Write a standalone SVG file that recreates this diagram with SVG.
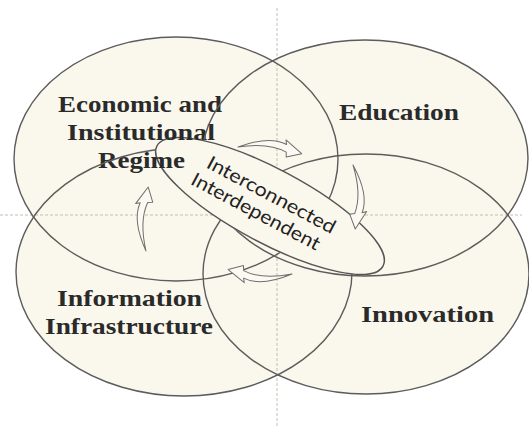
<svg xmlns="http://www.w3.org/2000/svg" width="529" height="428" viewBox="0 0 529 428">
  <style>
    .fill { fill: #faf7ec; stroke: none; }
    .ring { fill: none; stroke: #5c5c5c; stroke-width: 1.4; }
    .guide { fill: none; stroke: #bcc2ad; stroke-width: 1; stroke-dasharray: 3 2; }
    .label { font-family: "Liberation Serif", "Times New Roman", serif; font-weight: bold; font-size: 24px; fill: #2a2a2a; text-anchor: middle; }
    .core { fill: #faf7ec; stroke: #555; stroke-width: 1.4; }
    .coretext { font-family: Lato, "DejaVu Sans", sans-serif; font-size: 19px; fill: #222; text-anchor: middle; }
    .cycle { fill: #fbf9f2; stroke: #6e6e6e; stroke-width: 1; stroke-linejoin: round; }
  </style>
  <defs>
    <!-- hollow curved arrow, tapered tail at origin, tip at (64,0), bowing toward -y -->
    <path id="turn" d="M0,0 Q30,-15 48,-7.5 L47,-12 L64,0 L49,5 L48.5,0 Q30,-8 0,0 Z"/>
    <!-- hides ring strokes where they pass under the central oval -->
    <mask id="outsideCore" maskUnits="userSpaceOnUse" x="0" y="0" width="529" height="428">
      <rect width="529" height="428" fill="#fff"/>
      <ellipse cx="0" cy="0" rx="128" ry="37" transform="translate(270,206) rotate(28)" fill="#000"/>
    </mask>
  </defs>

  <rect width="529" height="428" fill="#ffffff"/>

  <!-- shared cream fill beneath all four domains -->
  <g id="fills">
    <ellipse class="fill" cx="176" cy="159" rx="162" ry="122"/>
    <ellipse class="fill" cx="365" cy="158" rx="163" ry="118"/>
    <ellipse class="fill" cx="184" cy="272" rx="168" ry="124"/>
    <ellipse class="fill" cx="366" cy="274" rx="163" ry="120"/>
  </g>

  <!-- dotted cross-hair guides -->
  <g id="guides">
    <line class="guide" x1="277" y1="8" x2="277" y2="428"/>
    <line class="guide" x1="0" y1="215" x2="522" y2="215"/>
  </g>

  <g id="core">
    <ellipse class="core" cx="0" cy="0" rx="128" ry="37" transform="translate(270,206) rotate(28)"/>
    <g transform="translate(266,205) rotate(28)">
      <text class="coretext" x="0" y="-5" textLength="143" lengthAdjust="spacingAndGlyphs">Interconnected</text>
      <text class="coretext" x="-6" y="17" textLength="143" lengthAdjust="spacingAndGlyphs">Interdependent</text>
    </g>
  </g>

  <g id="economic">
    <ellipse class="ring" cx="176" cy="159" rx="162" ry="122" mask="url(#outsideCore)"/>
    <text class="label" x="140" y="112" textLength="164" lengthAdjust="spacingAndGlyphs">Economic and</text>
    <text class="label" x="141" y="140" textLength="148" lengthAdjust="spacingAndGlyphs">Institutional</text>
    <text class="label" x="141.5" y="168" textLength="87" lengthAdjust="spacingAndGlyphs">Regime</text>
  </g>

  <g id="education">
    <ellipse class="ring" cx="365" cy="158" rx="163" ry="118" mask="url(#outsideCore)"/>
    <text class="label" x="399" y="120" textLength="120" lengthAdjust="spacingAndGlyphs">Education</text>
  </g>

  <g id="information">
    <ellipse class="ring" cx="184" cy="272" rx="168" ry="124" mask="url(#outsideCore)"/>
    <text class="label" x="129.5" y="306" textLength="145" lengthAdjust="spacingAndGlyphs">Information</text>
    <text class="label" x="129" y="334" textLength="168" lengthAdjust="spacingAndGlyphs">Infrastructure</text>
  </g>

  <g id="innovation">
    <ellipse class="ring" cx="366" cy="274" rx="163" ry="120" mask="url(#outsideCore)"/>
    <text class="label" x="427.5" y="322" textLength="133" lengthAdjust="spacingAndGlyphs">Innovation</text>
  </g>

  <!-- rotation arrows circling the core -->
  <g id="connectors">
    <use href="#turn" class="cycle" transform="translate(238,147) rotate(6)"/>
    <use href="#turn" class="cycle" transform="translate(353,165) rotate(88)"/>
    <use href="#turn" class="cycle" transform="translate(292,274) rotate(184)"/>
    <use href="#turn" class="cycle" transform="translate(146,251) rotate(-88)"/>
  </g>
</svg>
